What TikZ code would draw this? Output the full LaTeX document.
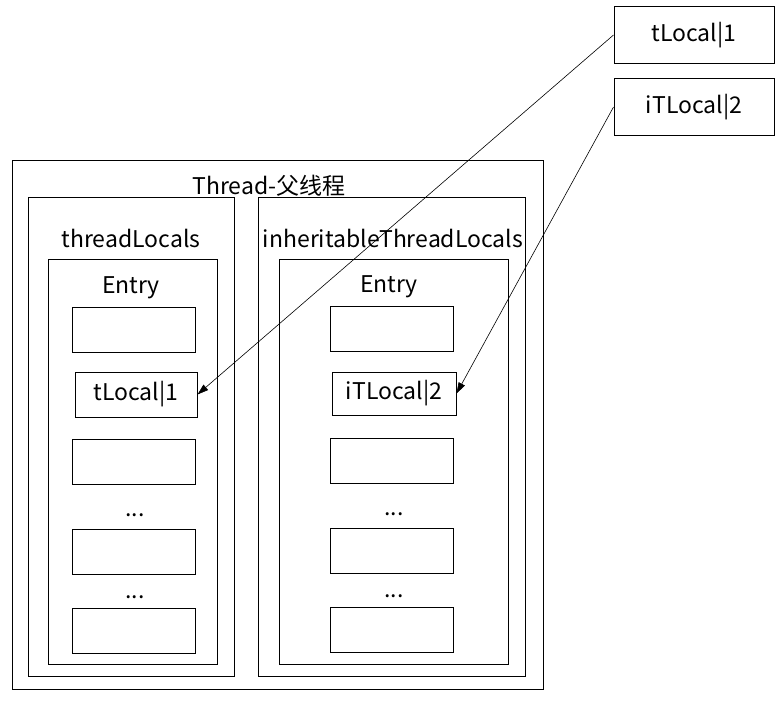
\documentclass[tikz,border=0pt]{standalone}
\usepackage{fontspec}
\setmainfont{Noto Sans CJK SC}
\usepackage{tikz}
\usetikzlibrary{positioning,arrows.meta}

\begin{document}
\begin{tikzpicture}[x=1pt,y=-1pt,
every node/.style={inner sep=0pt,font=\fontsize{23}{25}\selectfont},
frame/.style={draw,line width=1pt},
slot/.style={draw,line width=1pt,minimum width=123pt,minimum height=45pt},
ref/.style={-{Triangle[length=11pt,width=7pt]},line width=0.6pt}]
\useasboundingbox (0,0) rectangle (779,702);
% thread-local objects
\node[slot,minimum width=160pt,minimum height=57pt] (tl) at (694,35) {tLocal|1};
\node[slot,minimum width=160pt,minimum height=57pt] (itl) at (694,107) {iTLocal|2};
% parent thread
\draw[frame] (12,160) rectangle (543,689);
\node (thread) at (269,186) {Thread-父线程};
% threadLocals map
\draw[frame] (28,197) rectangle (234,676);
\node (tlmap) at (131,238) {threadLocals};
\draw[frame] (48,259) rectangle (217,664);
\node (entryl) at (131,288) {Entry};
\node[slot] (l1) at (133.5,329.5) {};
\node[slot,minimum width=122pt] (l2) at (136,394.5) {tLocal|1};
\node[slot] (l3) at (133.5,462) {};
\node (dotsl1) at (135,515) {...};
\node[slot] (l4) at (134,552) {};
\node (dotsl2) at (135,597) {...};
\node[slot] (l5) at (134,631) {};
% inheritableThreadLocals map
\draw[frame] (258,197) rectangle (525,676);
\node (itlmap) at (393,238) {inheritableThreadLocals};
\draw[frame] (279,259) rectangle (508,664);
\node (entryr) at (389,287) {Entry};
\node[slot] (r1) at (392,328.5) {};
\node[slot,minimum width=124pt,minimum height=43pt] (r2) at (394,393.5) {iTLocal|2};
\node[slot] (r3) at (392,460.5) {};
\node (dotsr1) at (394,514) {...};
\node[slot] (r4) at (392,550.5) {};
\node (dotsr2) at (394,596) {...};
\node[slot] (r5) at (392,629.5) {};
% references
\draw[ref] (tl.west) -- (l2.east);
\draw[ref] (itl.west) -- (r2.east);
\end{tikzpicture}
\end{document}
